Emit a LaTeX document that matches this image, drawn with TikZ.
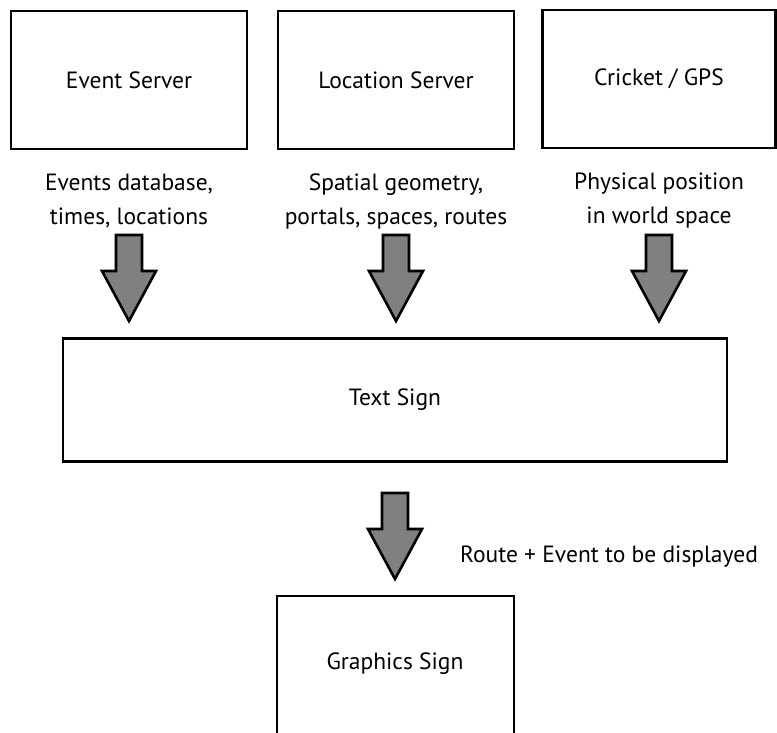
\documentclass[tikz,border=0pt]{standalone}
\usepackage{fontspec}
\setmainfont{PT Sans}
\tikzset{
  box/.style={draw, line width=2.6pt, inner sep=0pt,
    minimum width=236pt, minimum height=138pt,
    font=\fontsize{23.5}{28}\selectfont},
  lbl/.style={align=center, inner sep=0pt, font=\fontsize{23.5}{34}\selectfont},
  pics/blockarrow/.style={code={
    \draw[line width=2.6pt, fill=gray, line join=miter]
      (-13,0) -- (13,0) -- (13,36) -- (27,36) -- (0,86)
      -- (-27,36) -- (-13,36) -- cycle;
  }},
}
\begin{document}
\begin{tikzpicture}[x=1pt,y=-1pt]
  \useasboundingbox (0,0) rectangle (777,732);

  % sources
  \node[box] (event) at (129,80) {Event Server};
  \node[box] (loc)   at (396,80) {Location Server};
  \node[box, minimum width=233pt] (gps) at (659,79) {Cricket / GPS};

  % what each source provides
  \node[lbl] (eventlbl) at (129,201) {Events database,\\times, locations};
  \node[lbl] (loclbl)   at (396,201) {Spatial geometry,\\portals, spaces, routes};
  \node[lbl] (gpslbl)   at (659,201) {Physical position\\in world space};

  % flow into the text sign
  \pic at (129,235) {blockarrow};
  \pic at (396,235) {blockarrow};
  \pic at (659,235) {blockarrow};

  \node[box, minimum width=664pt, minimum height=123pt] (text) at (395,400) {Text Sign};

  % flow into the graphics sign
  \pic at (395,493) {blockarrow};
  \node[lbl, anchor=west] (route) at (460,557) {Route + Event to be displayed};

  % graphics sign, open at the bottom edge
  \coordinate (gsl) at (277,745);
  \coordinate (gsr) at (514,745);
  \draw[line width=2.6pt] (gsl) |- (396,596) -| (gsr);
  \node[font=\fontsize{23.5}{28}\selectfont] (gfx) at (395,664) {Graphics Sign};
\end{tikzpicture}
\end{document}
